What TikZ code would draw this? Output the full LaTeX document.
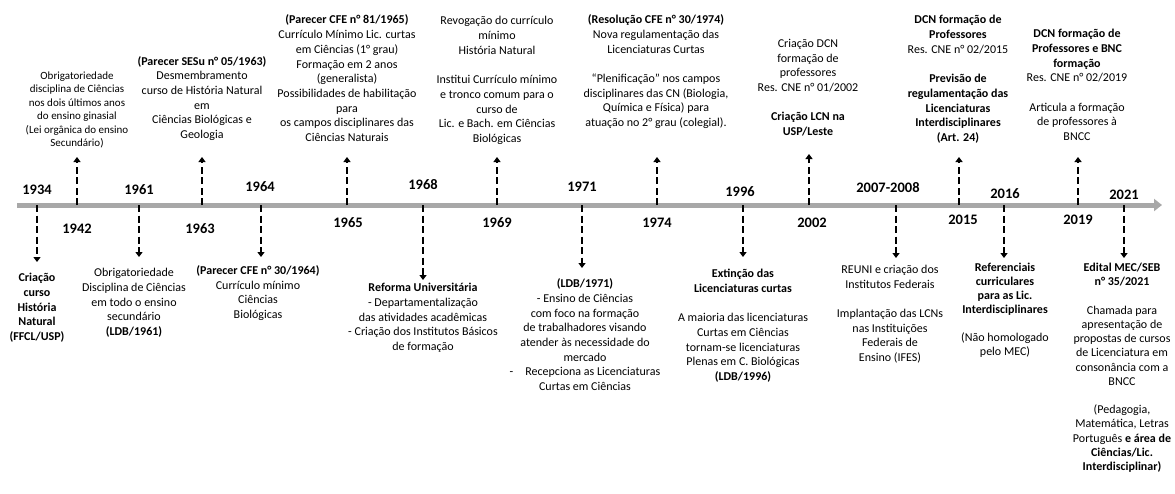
\documentclass[tikz,border=0pt]{standalone}
\usepackage{fontspec}
\setmainfont{Carlito}
\usetikzlibrary{arrows.meta}
\definecolor{axisgray}{rgb}{0.66,0.66,0.66}
\tikzset{
	year/.style={font=\fontsize{14.5}{16}\selectfont\bfseries, inner sep=0pt},
	evt/.style={font=\fontsize{12}{14.7}\selectfont, align=center, inner sep=0pt, anchor=base},
	evtarrow/.style={dash pattern=on 7pt off 3.5pt, line width=2pt, -{Triangle[length=5pt,width=7pt]}}
}

\begin{document}
\begin{tikzpicture}[x=1pt,y=-1pt]
\useasboundingbox (0,0) rectangle (1175,493);

% time axis
\coordinate (axstart) at (17,205);
\coordinate (axend) at (1162,205);
\draw[axisgray, line width=5pt, -{Triangle[length=8pt,width=12pt]}] (axstart) -- (axend);

% points on the axis
\coordinate (a1934) at (37,205);
\coordinate (a1942) at (77,205);
\coordinate (a1961) at (139,205);
\coordinate (a1963) at (202,205);
\coordinate (a1964) at (261,205);
\coordinate (a1965) at (347,205);
\coordinate (a1968) at (423,205);
\coordinate (a1969) at (497,205);
\coordinate (a1971) at (582,205);
\coordinate (a1974) at (657,205);
\coordinate (a1996) at (743,205);
\coordinate (a2002) at (809,205);
\coordinate (a2007) at (896,205);
\coordinate (a2015) at (959,205);
\coordinate (a2016) at (1004,205);
\coordinate (a2019) at (1078,205);
\coordinate (a2021) at (1124,205);

% years above the axis
\node[year] (y1934) at (37,190) {1934};
\node[year] (y1961) at (139,190) {1961};
\node[year] (y1964) at (260,187) {1964};
\node[year] (y1968) at (423,185) {1968};
\node[year] (y1971) at (582,187) {1971};
\node[year] (y1996) at (740,192) {1996};
\node[year] (y2007) at (888,188) {2007-2008};
\node[year] (y2016) at (1005,194) {2016};
\node[year] (y2021) at (1124,195) {2021};

% years below the axis
\node[year] (y1942) at (77,229) {1942};
\node[year] (y1963) at (200,229) {1963};
\node[year] (y1965) at (348,223) {1965};
\node[year] (y1969) at (497,223) {1969};
\node[year] (y1974) at (657,223) {1974};
\node[year] (y2002) at (812,223) {2002};
\node[year] (y2015) at (963,220) {2015};
\node[year] (y2019) at (1078,220) {2019};

% events above (placed by the base of their last line)
\node[evt, font=\fontsize{11}{13.4}\selectfont] (ev1942) at (77,146.5) {Obrigatoriedade\\ disciplina de Ciências\\ nos dois últimos anos\\ do ensino ginasial\\ (Lei orgânica do ensino\\ Secundário)};
\node[evt] (ev1963) at (202,138.5) {\textbf{(Parecer SESu n° 05/1963)}\\ Desmembramento\\ curso de História Natural\\ em\\ Ciências Biológicas e\\ Geologia};
\node[evt] (ev1965) at (347,141.5) {\textbf{(Parecer CFE n° 81/1965)}\\ Currículo Mínimo Lic. curtas\\ em Ciências (1° grau)\\ Formação em 2 anos\\ (generalista)\\ Possibilidades de habilitação\\ para\\ os campos disciplinares das\\ Ciências Naturais};
\node[evt] (ev1969) at (497,142.5) {Revogação do currículo\\ mínimo\\ História Natural\\[14.7pt] Institui Currículo mínimo\\ e tronco comum para o\\ curso de\\ Lic. e Bach. em Ciências\\ Biológicas};
\node[evt] (ev1974) at (656,126.5) {\textbf{(Resolução CFE n° 30/1974)}\\ Nova regulamentação das\\ Licenciaturas Curtas\\[14.7pt] “Plenificação” nos campos\\ disciplinares das CN (Biologia,\\ Química e Física) para\\ atuação no 2° grau (colegial).};
\node[evt] (ev2002) at (808,135.5) {Criação DCN\\ formação de\\ professores\\ Res. CNE n° 01/2002\\[14.7pt] \textbf{Criação LCN na}\\ \textbf{USP/Leste}};
\node[evt] (ev2015) at (958,141.5) {\textbf{DCN formação de}\\ \textbf{Professores}\\ Res. CNE n° 02/2015\\[14.7pt] \textbf{Previsão de}\\ \textbf{regulamentação das}\\ \textbf{Licenciaturas}\\ \textbf{Interdisciplinares}\\ \textbf{(Art. 24)}};
\node[evt] (ev2019) at (1077,140.5) {\textbf{DCN formação de}\\ \textbf{Professores e BNC}\\ \textbf{formação}\\ Res. CNE n° 02/2019\\[14.7pt] Articula a formação\\ de professores à\\ BNCC};

% events below
\node[evt] (ev1934) at (37,340.5) {\textbf{Criação}\\ \textbf{curso}\\ \textbf{História}\\ \textbf{Natural}\\ \textbf{(FFCL/USP)}};
\node[evt] (ev1961) at (134,335.5) {Obrigatoriedade\\ Disciplina de Ciências\\ em todo o ensino\\ secundário\\ \textbf{(LDB/1961)}};
\node[evt] (ev1964) at (258,318.5) {\textbf{(Parecer CFE n° 30/1964)}\\ Currículo mínimo\\ Ciências\\ Biológicas};
\node[evt] (ev1968) at (423,350.5) {\textbf{Reforma Universitária}\\ - Departamentalização\\ das atividades acadêmicas\\ - Criação dos Institutos Básicos\\ de formação};
\node[evt] (ev1971) at (585,390.5) {\textbf{(LDB/1971)}\\ - Ensino de Ciências\\ com foco na formação\\ de trabalhadores visando\\ atender às necessidade do\\ mercado\\ -\hspace{12pt}Recepciona as Licenciaturas\\ Curtas em Ciências};
\node[evt] (ev1996) at (743,380.5) {\textbf{Extinção das}\\ \textbf{Licenciaturas curtas}\\[14.7pt] A maioria das licenciaturas\\ Curtas em Ciências\\ tornam-se licenciaturas\\ Plenas em C. Biológicas\\ \textbf{(LDB/1996)}};
\node[evt] (ev2007) at (890,361.5) {REUNI e criação dos\\ Institutos Federais\\[14.7pt] Implantação das LCNs\\ nas Instituições\\ Federais de\\ Ensino (IFES)};
\node[evt, font=\fontsize{12}{14}\selectfont] (ev2016) at (1005,355.5) {\textbf{Referenciais}\\ \textbf{curriculares}\\ \textbf{para as Lic.}\\ \textbf{Interdisciplinares}\\[14pt] (Não homologado\\ pelo MEC)};
\node[evt, font=\fontsize{12}{14.2}\selectfont] (ev2021) at (1122,470.5) {\textbf{Edital MEC/SEB}\\ \textbf{n° 35/2021}\\[14.2pt] Chamada para\\ apresentação de\\ propostas de cursos\\ de Licenciatura em\\ consonância com a\\ BNCC\\[14.2pt] (Pedagogia,\\ Matemática, Letras\\ Português \textbf{e área de}\\ \textbf{Ciências/Lic.}\\ \textbf{Interdisciplinar)}};

% arrow tips
\coordinate (e1942) at (77,157);
\coordinate (e1963) at (202,157);
\coordinate (e1965) at (347,157);
\coordinate (e1969) at (497,157);
\coordinate (e1974) at (657,157);
\coordinate (e2002) at (809,154);
\coordinate (e2015) at (959,157);
\coordinate (e2019) at (1078,157);
\coordinate (e1934) at (37,262);
\coordinate (e1961) at (139,257);
\coordinate (e1964) at (261,257);
\coordinate (e1968) at (423,280);
\coordinate (e1971) at (582,268);
\coordinate (e1996) at (743,257);
\coordinate (e2007) at (896,258);
\coordinate (e2016) at (1004,258);
\coordinate (e2021) at (1124,258);

% dashed arrows up
\draw[evtarrow] (a1942) -- (e1942);
\draw[evtarrow] (a1963) -- (e1963);
\draw[evtarrow] (a1965) -- (e1965);
\draw[evtarrow] (a1969) -- (e1969);
\draw[evtarrow] (a1974) -- (e1974);
\draw[evtarrow] (a2002) -- (e2002);
\draw[evtarrow] (a2015) -- (e2015);
\draw[evtarrow] (a2019) -- (e2019);

% dashed arrows down
\draw[evtarrow] (a1934) -- (e1934);
\draw[evtarrow] (a1961) -- (e1961);
\draw[evtarrow] (a1964) -- (e1964);
\draw[evtarrow] (a1968) -- (e1968);
\draw[evtarrow] (a1971) -- (e1971);
\draw[evtarrow] (a1996) -- (e1996);
\draw[evtarrow] (a2007) -- (e2007);
\draw[evtarrow] (a2016) -- (e2016);
\draw[evtarrow] (a2021) -- (e2021);
\end{tikzpicture}
\end{document}
